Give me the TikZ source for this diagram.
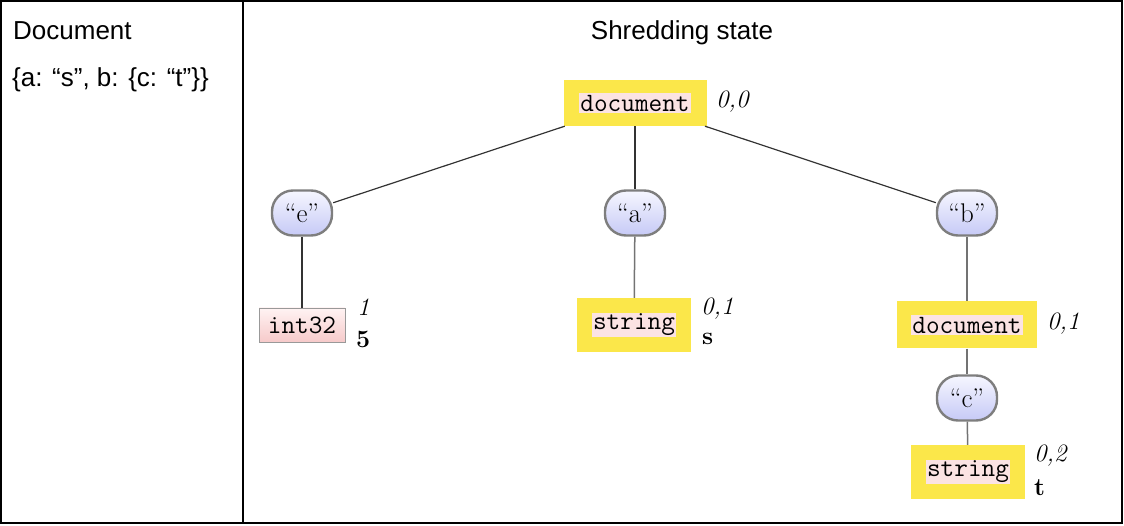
\documentclass[tikz,border=0pt]{standalone}
\usepackage{fontspec}
\newfontfamily\arialf{Liberation Sans}
\usetikzlibrary{shapes.geometric}
\definecolor{yelc}{HTML}{FBE74A}
\definecolor{pinkhl}{HTML}{FBE3E3}
\definecolor{pinktop}{HTML}{FFF3F3}
\definecolor{pinkbot}{HTML}{F6CACA}
\definecolor{lavtop}{HTML}{F6F6FF}
\definecolor{lavbot}{HTML}{C6CAF6}
\definecolor{ellborder}{HTML}{7E7E7E}
\newcommand\hltt[1]{{\setlength{\fboxsep}{1.5pt}\colorbox{pinkhl}{\fontsize{26.5}{30}\selectfont\ttfamily #1}}}
\tikzset{
  ydoc/.style={fill=yelc, inner sep=0pt},
  ellnode/.style={rectangle, rounded corners=21pt, draw=ellborder, line width=2.4pt,
    top color=lavtop, bottom color=lavbot, minimum width=60pt, minimum height=45pt,
    inner sep=0pt, font=\fontsize{27}{30}\selectfont},
  intbox/.style={draw=black!40, line width=0.8pt, top color=pinktop, bottom color=pinkbot,
    minimum width=86pt, minimum height=34pt, inner sep=0pt, font=\fontsize{26.5}{30}\selectfont\ttfamily},
  lab/.style={inner sep=0pt, font=\fontsize{25}{28}\selectfont\itshape},
  val/.style={inner sep=0pt, font=\fontsize{25}{28}\selectfont\bfseries},
  hdr/.style={inner sep=0pt, font=\fontsize{26}{30}\selectfont\arialf},
  edgedark/.style={draw=black!80, line width=1.2pt},
  edgegray/.style={draw=black!55, line width=1.5pt},
}
\begin{document}
\begin{tikzpicture}[x=1pt,y=-1pt]
\useasboundingbox (0,0) rectangle (1124,526);
\draw[line width=2pt] (1,1) rectangle (1122,523);
\draw[line width=2pt] (243,1) -- (243,523);
% headers
\node[hdr, anchor=base west] (hdoc) at (13,40) {Document};
\node[hdr, anchor=base west] (hjson) at (12,87) {\{a: “s”, b: \{c: “t”\}\}};
\node[hdr, anchor=base] (hshred) at (682,40) {Shredding state};
% tree nodes
\node[ydoc, minimum width=143pt, minimum height=46pt] (root) at (635,103) {\hltt{document}};
\node[ellnode] (e) at (302,213) {``e''};
\node[ellnode] (a) at (635,213) {``a''};
\node[ellnode] (b) at (967,213) {``b''};
\node[intbox] (int) at (302,325) {int32};
\node[ydoc, minimum width=114pt, minimum height=54pt] (sa) at (634,325) {\hltt{string}};
\node[ydoc, minimum width=140pt, minimum height=47pt] (db) at (967,325) {\hltt{document}};
\node[ellnode] (c) at (967,398) {``c''};
\node[ydoc, minimum width=114pt, minimum height=54pt] (sc) at (968,472) {\hltt{string}};
% labels
\node[lab, anchor=west] (l0) at (716,102) {0,0};
\node[lab, anchor=west] (l1) at (357,307) {1};
\node[val, anchor=west] (v1) at (356,339) {5};
\node[lab, anchor=west] (l2) at (701,309) {0,1};
\node[val, anchor=west] (v2) at (702,339) {s};
\node[lab, anchor=west] (l3) at (1047,324) {0,1};
\node[lab, anchor=west] (l4) at (1034,456) {0,2};
\node[val, anchor=west] (v4) at (1034,488) {t};
% edges
\draw[edgedark] (root) -- (e);
\draw[edgedark] (root) -- (a);
\draw[edgedark] (root) -- (b);
\draw[edgedark] (e) -- (int);
\draw[edgegray] (a) -- (sa);
\draw[edgegray] (b) -- (db);
\draw[edgegray] (db) -- (c);
\draw[edgegray] (c) -- (sc);
\end{tikzpicture}
\end{document}
